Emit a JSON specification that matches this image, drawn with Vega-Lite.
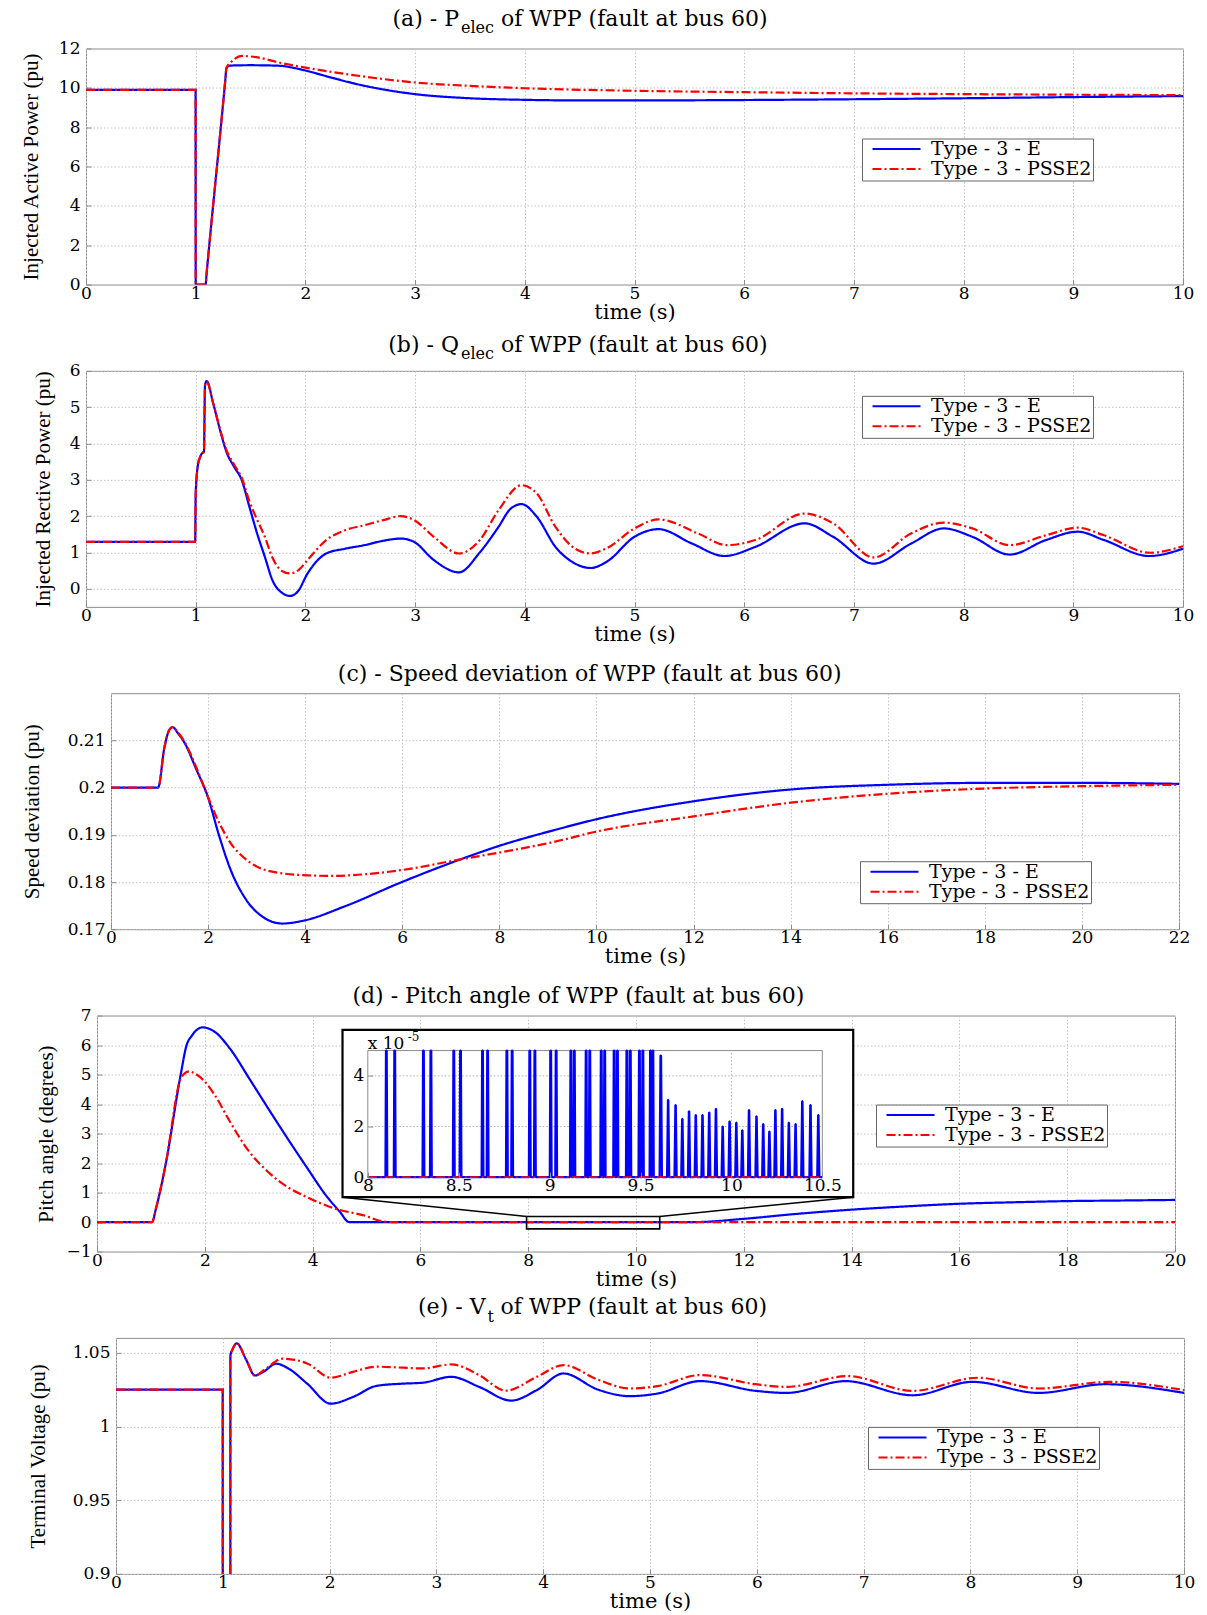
{
"$schema": "https://vega.github.io/schema/vega-lite/v6.json",
"background": "white",
"padding": {"left": 0, "top": 5.5, "right": 4, "bottom": 0},
"config": {
  "view": {"stroke": "#8c8c8c", "strokeWidth": 1},
  "axis": {"domain": false, "grid": true, "gridColor": "#c4c4c4", "gridDash": [1.5, 2], "gridWidth": 1,
    "ticks": true, "tickColor": "#8c8c8c", "tickSize": -5, "tickWidth": 1, "tickCount": 30,
    "labelFont": "DejaVu Serif", "labelFontSize": 17, "labelColor": "#000", "labelFlush": false, "labelOverlap": false,
    "titleFont": "DejaVu Serif", "titleFontSize": 21, "titleFontWeight": "normal", "titleColor": "#000"},
  "axisX": {"labelPadding": 5.5, "titlePadding": 0},
  "axisY": {"labelPadding": 11, "titleFont": "Liberation Serif", "titleFontSize": 21},
  "legend": {"labelFont": "DejaVu Serif", "labelFontSize": 19, "labelColor": "#000", "labelLimit": 0}
},
"datasets": {
 "pa": [
  {"t":0,"v":9.9,"s":"Type - 3 - E"},{"t":0.999,"v":9.9,"s":"Type - 3 - E"},{"t":1,"v":0,"s":"Type - 3 - E"},{"t":1.09,"v":0,"s":"Type - 3 - E"},{"t":1.1,"v":0.6,"s":"Type - 3 - E"},{"t":1.27,"v":10.4,"s":"Type - 3 - E"},{"t":1.28,"v":11.0,"s":"Type - 3 - E"},{"t":1.31,"v":11.13,"s":"Type - 3 - E"},{"t":1.5,"v":11.15,"s":"Type - 3 - E"},{"t":1.77,"v":11.12,"s":"Type - 3 - E"},{"t":1.88,"v":11.03,"s":"Type - 3 - E"},{"t":2,"v":10.88,"s":"Type - 3 - E"},{"t":2.25,"v":10.5,"s":"Type - 3 - E"},{"t":2.5,"v":10.15,"s":"Type - 3 - E"},{"t":2.75,"v":9.88,"s":"Type - 3 - E"},{"t":3,"v":9.68,"s":"Type - 3 - E"},{"t":3.5,"v":9.47,"s":"Type - 3 - E"},{"t":4,"v":9.39,"s":"Type - 3 - E"},{"t":4.5,"v":9.36,"s":"Type - 3 - E"},{"t":5,"v":9.36,"s":"Type - 3 - E"},{"t":6,"v":9.38,"s":"Type - 3 - E"},{"t":7,"v":9.42,"s":"Type - 3 - E"},{"t":8,"v":9.47,"s":"Type - 3 - E"},{"t":9,"v":9.53,"s":"Type - 3 - E"},{"t":10,"v":9.58,"s":"Type - 3 - E"},
  {"t":0,"v":9.9,"s":"Type - 3 - PSSE2"},{"t":0.999,"v":9.9,"s":"Type - 3 - PSSE2"},{"t":1,"v":0,"s":"Type - 3 - PSSE2"},{"t":1.09,"v":0,"s":"Type - 3 - PSSE2"},{"t":1.1,"v":0.6,"s":"Type - 3 - PSSE2"},{"t":1.27,"v":10.4,"s":"Type - 3 - PSSE2"},{"t":1.28,"v":11.0,"s":"Type - 3 - PSSE2"},{"t":1.33,"v":11.35,"s":"Type - 3 - PSSE2"},{"t":1.42,"v":11.62,"s":"Type - 3 - PSSE2"},{"t":1.55,"v":11.56,"s":"Type - 3 - PSSE2"},{"t":1.75,"v":11.3,"s":"Type - 3 - PSSE2"},{"t":2,"v":11.03,"s":"Type - 3 - PSSE2"},{"t":2.5,"v":10.6,"s":"Type - 3 - PSSE2"},{"t":3,"v":10.27,"s":"Type - 3 - PSSE2"},{"t":3.5,"v":10.1,"s":"Type - 3 - PSSE2"},{"t":4,"v":9.98,"s":"Type - 3 - PSSE2"},{"t":5,"v":9.85,"s":"Type - 3 - PSSE2"},{"t":6,"v":9.78,"s":"Type - 3 - PSSE2"},{"t":7,"v":9.72,"s":"Type - 3 - PSSE2"},{"t":8,"v":9.68,"s":"Type - 3 - PSSE2"},{"t":9,"v":9.65,"s":"Type - 3 - PSSE2"},{"t":10,"v":9.63,"s":"Type - 3 - PSSE2"}
 ],
 "pb": [
  {"t":0,"v":1.29,"s":"Type - 3 - E"},{"t":0.995,"v":1.29,"s":"Type - 3 - E"},{"t":1,"v":2.6,"s":"Type - 3 - E"},{"t":1.02,"v":3.4,"s":"Type - 3 - E"},{"t":1.04,"v":3.62,"s":"Type - 3 - E"},{"t":1.065,"v":3.75,"s":"Type - 3 - E"},{"t":1.075,"v":3.76,"s":"Type - 3 - E"},{"t":1.085,"v":5.6,"s":"Type - 3 - E"},{"t":1.1,"v":5.72,"s":"Type - 3 - E"},{"t":1.16,"v":5.1,"s":"Type - 3 - E"},{"t":1.23,"v":4.28,"s":"Type - 3 - E"},{"t":1.28,"v":3.77,"s":"Type - 3 - E"},{"t":1.35,"v":3.36,"s":"Type - 3 - E"},{"t":1.42,"v":2.99,"s":"Type - 3 - E"},{"t":1.49,"v":2.25,"s":"Type - 3 - E"},{"t":1.56,"v":1.52,"s":"Type - 3 - E"},{"t":1.63,"v":0.88,"s":"Type - 3 - E"},{"t":1.7,"v":0.23,"s":"Type - 3 - E"},{"t":1.79,"v":-0.12,"s":"Type - 3 - E"},{"t":1.86,"v":-0.2,"s":"Type - 3 - E"},{"t":1.93,"v":-0.08,"s":"Type - 3 - E"},{"t":2.02,"v":0.42,"s":"Type - 3 - E"},{"t":2.19,"v":0.97,"s":"Type - 3 - E"},{"t":2.36,"v":1.1,"s":"Type - 3 - E"},{"t":2.54,"v":1.2,"s":"Type - 3 - E"},{"t":2.71,"v":1.32,"s":"Type - 3 - E"},{"t":2.87,"v":1.38,"s":"Type - 3 - E"},{"t":2.99,"v":1.29,"s":"Type - 3 - E"},{"t":3.17,"v":0.79,"s":"Type - 3 - E"},{"t":3.4,"v":0.45,"s":"Type - 3 - E"},{"t":3.59,"v":1.0,"s":"Type - 3 - E"},{"t":3.76,"v":1.7,"s":"Type - 3 - E"},{"t":3.87,"v":2.2,"s":"Type - 3 - E"},{"t":3.97,"v":2.33,"s":"Type - 3 - E"},{"t":4.11,"v":1.98,"s":"Type - 3 - E"},{"t":4.28,"v":1.15,"s":"Type - 3 - E"},{"t":4.46,"v":0.69,"s":"Type - 3 - E"},{"t":4.6,"v":0.57,"s":"Type - 3 - E"},{"t":4.75,"v":0.75,"s":"Type - 3 - E"},{"t":5.0,"v":1.43,"s":"Type - 3 - E"},{"t":5.22,"v":1.64,"s":"Type - 3 - E"},{"t":5.52,"v":1.25,"s":"Type - 3 - E"},{"t":5.82,"v":0.9,"s":"Type - 3 - E"},{"t":6.1,"v":1.15,"s":"Type - 3 - E"},{"t":6.55,"v":1.8,"s":"Type - 3 - E"},{"t":6.81,"v":1.43,"s":"Type - 3 - E"},{"t":7.18,"v":0.69,"s":"Type - 3 - E"},{"t":7.52,"v":1.24,"s":"Type - 3 - E"},{"t":7.82,"v":1.66,"s":"Type - 3 - E"},{"t":8.08,"v":1.43,"s":"Type - 3 - E"},{"t":8.42,"v":0.94,"s":"Type - 3 - E"},{"t":8.75,"v":1.34,"s":"Type - 3 - E"},{"t":9.04,"v":1.57,"s":"Type - 3 - E"},{"t":9.28,"v":1.34,"s":"Type - 3 - E"},{"t":9.69,"v":0.9,"s":"Type - 3 - E"},{"t":10,"v":1.1,"s":"Type - 3 - E"},
  {"t":0,"v":1.29,"s":"Type - 3 - PSSE2"},{"t":0.995,"v":1.29,"s":"Type - 3 - PSSE2"},{"t":1,"v":2.6,"s":"Type - 3 - PSSE2"},{"t":1.02,"v":3.4,"s":"Type - 3 - PSSE2"},{"t":1.04,"v":3.62,"s":"Type - 3 - PSSE2"},{"t":1.065,"v":3.75,"s":"Type - 3 - PSSE2"},{"t":1.075,"v":3.76,"s":"Type - 3 - PSSE2"},{"t":1.085,"v":5.6,"s":"Type - 3 - PSSE2"},{"t":1.1,"v":5.7,"s":"Type - 3 - PSSE2"},{"t":1.16,"v":5.1,"s":"Type - 3 - PSSE2"},{"t":1.23,"v":4.3,"s":"Type - 3 - PSSE2"},{"t":1.28,"v":3.82,"s":"Type - 3 - PSSE2"},{"t":1.35,"v":3.42,"s":"Type - 3 - PSSE2"},{"t":1.42,"v":3.05,"s":"Type - 3 - PSSE2"},{"t":1.49,"v":2.4,"s":"Type - 3 - PSSE2"},{"t":1.56,"v":1.9,"s":"Type - 3 - PSSE2"},{"t":1.63,"v":1.43,"s":"Type - 3 - PSSE2"},{"t":1.7,"v":0.85,"s":"Type - 3 - PSSE2"},{"t":1.79,"v":0.48,"s":"Type - 3 - PSSE2"},{"t":1.86,"v":0.42,"s":"Type - 3 - PSSE2"},{"t":1.94,"v":0.52,"s":"Type - 3 - PSSE2"},{"t":2.02,"v":0.79,"s":"Type - 3 - PSSE2"},{"t":2.19,"v":1.34,"s":"Type - 3 - PSSE2"},{"t":2.36,"v":1.61,"s":"Type - 3 - PSSE2"},{"t":2.54,"v":1.75,"s":"Type - 3 - PSSE2"},{"t":2.71,"v":1.89,"s":"Type - 3 - PSSE2"},{"t":2.87,"v":2.0,"s":"Type - 3 - PSSE2"},{"t":2.99,"v":1.89,"s":"Type - 3 - PSSE2"},{"t":3.17,"v":1.43,"s":"Type - 3 - PSSE2"},{"t":3.4,"v":0.97,"s":"Type - 3 - PSSE2"},{"t":3.59,"v":1.34,"s":"Type - 3 - PSSE2"},{"t":3.76,"v":2.16,"s":"Type - 3 - PSSE2"},{"t":3.97,"v":2.85,"s":"Type - 3 - PSSE2"},{"t":4.11,"v":2.62,"s":"Type - 3 - PSSE2"},{"t":4.28,"v":1.7,"s":"Type - 3 - PSSE2"},{"t":4.46,"v":1.1,"s":"Type - 3 - PSSE2"},{"t":4.6,"v":0.97,"s":"Type - 3 - PSSE2"},{"t":4.75,"v":1.12,"s":"Type - 3 - PSSE2"},{"t":5.0,"v":1.66,"s":"Type - 3 - PSSE2"},{"t":5.22,"v":1.91,"s":"Type - 3 - PSSE2"},{"t":5.58,"v":1.52,"s":"Type - 3 - PSSE2"},{"t":5.84,"v":1.2,"s":"Type - 3 - PSSE2"},{"t":6.1,"v":1.34,"s":"Type - 3 - PSSE2"},{"t":6.55,"v":2.07,"s":"Type - 3 - PSSE2"},{"t":6.81,"v":1.8,"s":"Type - 3 - PSSE2"},{"t":7.18,"v":0.86,"s":"Type - 3 - PSSE2"},{"t":7.52,"v":1.52,"s":"Type - 3 - PSSE2"},{"t":7.82,"v":1.82,"s":"Type - 3 - PSSE2"},{"t":8.08,"v":1.66,"s":"Type - 3 - PSSE2"},{"t":8.42,"v":1.2,"s":"Type - 3 - PSSE2"},{"t":8.75,"v":1.47,"s":"Type - 3 - PSSE2"},{"t":9.04,"v":1.68,"s":"Type - 3 - PSSE2"},{"t":9.28,"v":1.47,"s":"Type - 3 - PSSE2"},{"t":9.7,"v":0.99,"s":"Type - 3 - PSSE2"},{"t":10,"v":1.17,"s":"Type - 3 - PSSE2"}
 ],
 "pc": [
  {"t":0,"v":0.2,"s":"Type - 3 - E"},{"t":0.97,"v":0.2,"s":"Type - 3 - E"},{"t":1.1,"v":0.2085,"s":"Type - 3 - E"},{"t":1.2,"v":0.2122,"s":"Type - 3 - E"},{"t":1.27,"v":0.2128,"s":"Type - 3 - E"},{"t":1.38,"v":0.2115,"s":"Type - 3 - E"},{"t":1.52,"v":0.2094,"s":"Type - 3 - E"},{"t":1.76,"v":0.2038,"s":"Type - 3 - E"},{"t":1.99,"v":0.1982,"s":"Type - 3 - E"},{"t":2.23,"v":0.1897,"s":"Type - 3 - E"},{"t":2.46,"v":0.1827,"s":"Type - 3 - E"},{"t":2.78,"v":0.1763,"s":"Type - 3 - E"},{"t":3.1,"v":0.1728,"s":"Type - 3 - E"},{"t":3.53,"v":0.1712,"s":"Type - 3 - E"},{"t":3.96,"v":0.1718,"s":"Type - 3 - E"},{"t":4.83,"v":0.1749,"s":"Type - 3 - E"},{"t":5.97,"v":0.1799,"s":"Type - 3 - E"},{"t":7.2,"v":0.1848,"s":"Type - 3 - E"},{"t":7.98,"v":0.1876,"s":"Type - 3 - E"},{"t":9.17,"v":0.1911,"s":"Type - 3 - E"},{"t":9.96,"v":0.1932,"s":"Type - 3 - E"},{"t":12,"v":0.1971,"s":"Type - 3 - E"},{"t":14,"v":0.1996,"s":"Type - 3 - E"},{"t":16,"v":0.2006,"s":"Type - 3 - E"},{"t":18,"v":0.201,"s":"Type - 3 - E"},{"t":20,"v":0.201,"s":"Type - 3 - E"},{"t":22,"v":0.2008,"s":"Type - 3 - E"},
  {"t":0,"v":0.2,"s":"Type - 3 - PSSE2"},{"t":0.97,"v":0.2,"s":"Type - 3 - PSSE2"},{"t":1.1,"v":0.2085,"s":"Type - 3 - PSSE2"},{"t":1.2,"v":0.2122,"s":"Type - 3 - PSSE2"},{"t":1.27,"v":0.2128,"s":"Type - 3 - PSSE2"},{"t":1.38,"v":0.2117,"s":"Type - 3 - PSSE2"},{"t":1.52,"v":0.2096,"s":"Type - 3 - PSSE2"},{"t":1.76,"v":0.2042,"s":"Type - 3 - PSSE2"},{"t":1.99,"v":0.1982,"s":"Type - 3 - PSSE2"},{"t":2.23,"v":0.1925,"s":"Type - 3 - PSSE2"},{"t":2.46,"v":0.1883,"s":"Type - 3 - PSSE2"},{"t":2.78,"v":0.1848,"s":"Type - 3 - PSSE2"},{"t":3.27,"v":0.1823,"s":"Type - 3 - PSSE2"},{"t":4.06,"v":0.1814,"s":"Type - 3 - PSSE2"},{"t":4.5,"v":0.1813,"s":"Type - 3 - PSSE2"},{"t":5.97,"v":0.1825,"s":"Type - 3 - PSSE2"},{"t":7.2,"v":0.1848,"s":"Type - 3 - PSSE2"},{"t":7.98,"v":0.1862,"s":"Type - 3 - PSSE2"},{"t":9.17,"v":0.1886,"s":"Type - 3 - PSSE2"},{"t":9.96,"v":0.1906,"s":"Type - 3 - PSSE2"},{"t":12,"v":0.1939,"s":"Type - 3 - PSSE2"},{"t":14,"v":0.1968,"s":"Type - 3 - PSSE2"},{"t":16,"v":0.1987,"s":"Type - 3 - PSSE2"},{"t":18,"v":0.1998,"s":"Type - 3 - PSSE2"},{"t":20,"v":0.2003,"s":"Type - 3 - PSSE2"},{"t":22,"v":0.2006,"s":"Type - 3 - PSSE2"}
 ],
 "pd": [
  {"t":0,"v":0,"s":"Type - 3 - E"},{"t":1.02,"v":0,"s":"Type - 3 - E"},{"t":1.1,"v":0.5,"s":"Type - 3 - E"},{"t":1.27,"v":1.92,"s":"Type - 3 - E"},{"t":1.55,"v":4.97,"s":"Type - 3 - E"},{"t":1.66,"v":5.98,"s":"Type - 3 - E"},{"t":1.76,"v":6.32,"s":"Type - 3 - E"},{"t":1.96,"v":6.6,"s":"Type - 3 - E"},{"t":2.19,"v":6.44,"s":"Type - 3 - E"},{"t":2.47,"v":5.87,"s":"Type - 3 - E"},{"t":2.83,"v":4.85,"s":"Type - 3 - E"},{"t":3.18,"v":3.84,"s":"Type - 3 - E"},{"t":3.54,"v":2.82,"s":"Type - 3 - E"},{"t":3.89,"v":1.86,"s":"Type - 3 - E"},{"t":4.25,"v":0.9,"s":"Type - 3 - E"},{"t":4.5,"v":0.36,"s":"Type - 3 - E"},{"t":4.68,"v":0,"s":"Type - 3 - E"},{"t":11.1,"v":0,"s":"Type - 3 - E"},{"t":12,"v":0.11,"s":"Type - 3 - E"},{"t":13,"v":0.28,"s":"Type - 3 - E"},{"t":14,"v":0.42,"s":"Type - 3 - E"},{"t":15,"v":0.53,"s":"Type - 3 - E"},{"t":16,"v":0.62,"s":"Type - 3 - E"},{"t":17,"v":0.67,"s":"Type - 3 - E"},{"t":18,"v":0.71,"s":"Type - 3 - E"},{"t":19,"v":0.73,"s":"Type - 3 - E"},{"t":20,"v":0.75,"s":"Type - 3 - E"},
  {"t":0,"v":0,"s":"Type - 3 - PSSE2"},{"t":1.02,"v":0,"s":"Type - 3 - PSSE2"},{"t":1.1,"v":0.5,"s":"Type - 3 - PSSE2"},{"t":1.27,"v":1.92,"s":"Type - 3 - PSSE2"},{"t":1.55,"v":4.85,"s":"Type - 3 - PSSE2"},{"t":1.63,"v":5.05,"s":"Type - 3 - PSSE2"},{"t":1.71,"v":5.11,"s":"Type - 3 - PSSE2"},{"t":1.8,"v":5.05,"s":"Type - 3 - PSSE2"},{"t":1.98,"v":4.8,"s":"Type - 3 - PSSE2"},{"t":2.19,"v":4.29,"s":"Type - 3 - PSSE2"},{"t":2.47,"v":3.39,"s":"Type - 3 - PSSE2"},{"t":2.83,"v":2.37,"s":"Type - 3 - PSSE2"},{"t":3.18,"v":1.69,"s":"Type - 3 - PSSE2"},{"t":3.54,"v":1.18,"s":"Type - 3 - PSSE2"},{"t":3.89,"v":0.85,"s":"Type - 3 - PSSE2"},{"t":4.39,"v":0.47,"s":"Type - 3 - PSSE2"},{"t":4.96,"v":0.22,"s":"Type - 3 - PSSE2"},{"t":5.31,"v":0.02,"s":"Type - 3 - PSSE2"},{"t":5.45,"v":0,"s":"Type - 3 - PSSE2"},{"t":20,"v":0,"s":"Type - 3 - PSSE2"}
 ],
 "pdinE": [
  {"t":8.0,"v":0},
  {"t":8.097,"v":0},{"t":8.1,"v":5},{"t":8.104,"v":5},{"t":8.107,"v":0},
  {"t":8.143,"v":0},{"t":8.146,"v":5},{"t":8.15,"v":5},{"t":8.153,"v":0},
  {"t":8.301,"v":0},{"t":8.304,"v":5},{"t":8.308,"v":5},{"t":8.311,"v":0},
  {"t":8.342,"v":0},{"t":8.345,"v":5},{"t":8.349,"v":5},{"t":8.352,"v":0},
  {"t":8.468,"v":0},{"t":8.471,"v":5},{"t":8.475,"v":5},{"t":8.478,"v":0},
  {"t":8.505,"v":0},{"t":8.508,"v":5},{"t":8.512,"v":5},{"t":8.515,"v":0},
  {"t":8.626,"v":0},{"t":8.629,"v":5},{"t":8.633,"v":5},{"t":8.636,"v":0},
  {"t":8.654,"v":0},{"t":8.657,"v":5},{"t":8.661,"v":5},{"t":8.664,"v":0},
  {"t":8.76,"v":0},{"t":8.763,"v":5},{"t":8.767,"v":5},{"t":8.77,"v":0},
  {"t":8.789,"v":0},{"t":8.792,"v":5},{"t":8.796,"v":5},{"t":8.799,"v":0},
  {"t":8.886,"v":0},{"t":8.889,"v":5},{"t":8.893,"v":5},{"t":8.896,"v":0},
  {"t":8.914,"v":0},{"t":8.917,"v":5},{"t":8.921,"v":5},{"t":8.924,"v":0},
  {"t":9.001,"v":0},{"t":9.004,"v":5},{"t":9.008,"v":5},{"t":9.011,"v":0},
  {"t":9.031,"v":0},{"t":9.034,"v":5},{"t":9.038,"v":5},{"t":9.041,"v":0},
  {"t":9.112,"v":0},{"t":9.115,"v":5},{"t":9.119,"v":5},{"t":9.122,"v":0},
  {"t":9.131,"v":0},{"t":9.134,"v":5},{"t":9.138,"v":5},{"t":9.141,"v":0},
  {"t":9.196,"v":0},{"t":9.199,"v":5},{"t":9.203,"v":5},{"t":9.206,"v":0},
  {"t":9.216,"v":0},{"t":9.219,"v":5},{"t":9.223,"v":5},{"t":9.226,"v":0},
  {"t":9.279,"v":0},{"t":9.282,"v":5},{"t":9.286,"v":5},{"t":9.289,"v":0},
  {"t":9.298,"v":0},{"t":9.301,"v":5},{"t":9.305,"v":5},{"t":9.308,"v":0},
  {"t":9.35,"v":0},{"t":9.353,"v":5},{"t":9.357,"v":5},{"t":9.36,"v":0},
  {"t":9.368,"v":0},{"t":9.371,"v":5},{"t":9.375,"v":5},{"t":9.378,"v":0},
  {"t":9.42,"v":0},{"t":9.423,"v":5},{"t":9.427,"v":5},{"t":9.43,"v":0},
  {"t":9.439,"v":0},{"t":9.442,"v":5},{"t":9.446,"v":5},{"t":9.449,"v":0},
  {"t":9.489,"v":0},{"t":9.492,"v":5},{"t":9.496,"v":5},{"t":9.499,"v":0},
  {"t":9.508,"v":0},{"t":9.511,"v":5},{"t":9.515,"v":5},{"t":9.518,"v":0},
  {"t":9.55,"v":0},{"t":9.553,"v":5},{"t":9.557,"v":5},{"t":9.56,"v":0},
  {"t":9.563,"v":0},{"t":9.566,"v":5},{"t":9.57,"v":5},{"t":9.573,"v":0},
  {"t":9.605,"v":0},{"t":9.61,"v":4.8},{"t":9.613,"v":4.8},{"t":9.618,"v":0},
  {"t":9.646,"v":0},{"t":9.651,"v":3.05},{"t":9.653,"v":3.05},{"t":9.658,"v":0},
  {"t":9.687,"v":0},{"t":9.692,"v":2.85},{"t":9.694,"v":2.85},{"t":9.699,"v":0},
  {"t":9.724,"v":0},{"t":9.729,"v":2.3},{"t":9.731,"v":2.3},{"t":9.736,"v":0},
  {"t":9.761,"v":0},{"t":9.766,"v":2.6},{"t":9.768,"v":2.6},{"t":9.773,"v":0},
  {"t":9.798,"v":0},{"t":9.803,"v":2.45},{"t":9.805,"v":2.45},{"t":9.81,"v":0},
  {"t":9.835,"v":0},{"t":9.84,"v":2.45},{"t":9.842,"v":2.45},{"t":9.847,"v":0},
  {"t":9.872,"v":0},{"t":9.877,"v":2.55},{"t":9.879,"v":2.55},{"t":9.884,"v":0},
  {"t":9.909,"v":0},{"t":9.914,"v":2.7},{"t":9.916,"v":2.7},{"t":9.921,"v":0},
  {"t":9.946,"v":0},{"t":9.951,"v":2.0},{"t":9.953,"v":2.0},{"t":9.958,"v":0},
  {"t":9.984,"v":0},{"t":9.989,"v":2.2},{"t":9.991,"v":2.2},{"t":9.996,"v":0},
  {"t":10.021,"v":0},{"t":10.026,"v":2.15},{"t":10.028,"v":2.15},{"t":10.033,"v":0},
  {"t":10.054,"v":0},{"t":10.059,"v":1.85},{"t":10.061,"v":1.85},{"t":10.066,"v":0},
  {"t":10.091,"v":0},{"t":10.096,"v":2.65},{"t":10.098,"v":2.65},{"t":10.103,"v":0},
  {"t":10.132,"v":0},{"t":10.137,"v":2.4},{"t":10.139,"v":2.4},{"t":10.144,"v":0},
  {"t":10.169,"v":0},{"t":10.174,"v":2.1},{"t":10.176,"v":2.1},{"t":10.181,"v":0},
  {"t":10.203,"v":0},{"t":10.208,"v":1.8},{"t":10.21,"v":1.8},{"t":10.215,"v":0},
  {"t":10.236,"v":0},{"t":10.241,"v":2.65},{"t":10.243,"v":2.65},{"t":10.248,"v":0},
  {"t":10.273,"v":0},{"t":10.278,"v":2.7},{"t":10.28,"v":2.7},{"t":10.285,"v":0},
  {"t":10.31,"v":0},{"t":10.315,"v":2.15},{"t":10.317,"v":2.15},{"t":10.322,"v":0},
  {"t":10.347,"v":0},{"t":10.352,"v":2.1},{"t":10.354,"v":2.1},{"t":10.359,"v":0},
  {"t":10.384,"v":0},{"t":10.389,"v":3.0},{"t":10.391,"v":3.0},{"t":10.396,"v":0},
  {"t":10.429,"v":0},{"t":10.434,"v":2.85},{"t":10.436,"v":2.85},{"t":10.441,"v":0},
  {"t":10.472,"v":0},{"t":10.477,"v":2.45},{"t":10.479,"v":2.45},{"t":10.484,"v":0},
  {"t":10.5,"v":0}
 ],
 "pdinP": [{"t":8,"v":0},{"t":10.5,"v":0}],
 "pe": [
  {"t":0,"v":1.025,"s":"Type - 3 - E"},{"t":0.999,"v":1.025,"s":"Type - 3 - E"},{"t":1,"v":0.5,"s":"Type - 3 - E"},{"t":1.07,"v":0.5,"s":"Type - 3 - E"},{"t":1.071,"v":1.048,"s":"Type - 3 - E"},{"t":1.09,"v":1.052,"s":"Type - 3 - E"},{"t":1.13,"v":1.0563,"s":"Type - 3 - E"},{"t":1.22,"v":1.045,"s":"Type - 3 - E"},{"t":1.3,"v":1.0345,"s":"Type - 3 - E"},{"t":1.38,"v":1.037,"s":"Type - 3 - E"},{"t":1.5,"v":1.0425,"s":"Type - 3 - E"},{"t":1.62,"v":1.039,"s":"Type - 3 - E"},{"t":1.79,"v":1.029,"s":"Type - 3 - E"},{"t":2.01,"v":1.0154,"s":"Type - 3 - E"},{"t":2.22,"v":1.02,"s":"Type - 3 - E"},{"t":2.44,"v":1.0275,"s":"Type - 3 - E"},{"t":2.69,"v":1.029,"s":"Type - 3 - E"},{"t":2.87,"v":1.0296,"s":"Type - 3 - E"},{"t":3.14,"v":1.0336,"s":"Type - 3 - E"},{"t":3.4,"v":1.0268,"s":"Type - 3 - E"},{"t":3.7,"v":1.0175,"s":"Type - 3 - E"},{"t":3.94,"v":1.0246,"s":"Type - 3 - E"},{"t":4.19,"v":1.0359,"s":"Type - 3 - E"},{"t":4.51,"v":1.025,"s":"Type - 3 - E"},{"t":4.81,"v":1.0205,"s":"Type - 3 - E"},{"t":5.07,"v":1.0223,"s":"Type - 3 - E"},{"t":5.47,"v":1.0307,"s":"Type - 3 - E"},{"t":5.99,"v":1.0241,"s":"Type - 3 - E"},{"t":6.28,"v":1.0227,"s":"Type - 3 - E"},{"t":6.83,"v":1.0307,"s":"Type - 3 - E"},{"t":7.46,"v":1.0211,"s":"Type - 3 - E"},{"t":8.02,"v":1.0302,"s":"Type - 3 - E"},{"t":8.64,"v":1.0227,"s":"Type - 3 - E"},{"t":9.26,"v":1.0286,"s":"Type - 3 - E"},{"t":10,"v":1.0227,"s":"Type - 3 - E"},
  {"t":0,"v":1.025,"s":"Type - 3 - PSSE2"},{"t":0.999,"v":1.025,"s":"Type - 3 - PSSE2"},{"t":1,"v":0.5,"s":"Type - 3 - PSSE2"},{"t":1.07,"v":0.5,"s":"Type - 3 - PSSE2"},{"t":1.071,"v":1.048,"s":"Type - 3 - PSSE2"},{"t":1.09,"v":1.052,"s":"Type - 3 - PSSE2"},{"t":1.13,"v":1.0563,"s":"Type - 3 - PSSE2"},{"t":1.22,"v":1.045,"s":"Type - 3 - PSSE2"},{"t":1.3,"v":1.0345,"s":"Type - 3 - PSSE2"},{"t":1.4,"v":1.039,"s":"Type - 3 - PSSE2"},{"t":1.56,"v":1.0459,"s":"Type - 3 - PSSE2"},{"t":1.79,"v":1.0427,"s":"Type - 3 - PSSE2"},{"t":2.01,"v":1.033,"s":"Type - 3 - PSSE2"},{"t":2.22,"v":1.037,"s":"Type - 3 - PSSE2"},{"t":2.44,"v":1.0405,"s":"Type - 3 - PSSE2"},{"t":2.69,"v":1.0398,"s":"Type - 3 - PSSE2"},{"t":2.87,"v":1.0393,"s":"Type - 3 - PSSE2"},{"t":3.14,"v":1.042,"s":"Type - 3 - PSSE2"},{"t":3.4,"v":1.0348,"s":"Type - 3 - PSSE2"},{"t":3.65,"v":1.0242,"s":"Type - 3 - PSSE2"},{"t":3.94,"v":1.0336,"s":"Type - 3 - PSSE2"},{"t":4.19,"v":1.0416,"s":"Type - 3 - PSSE2"},{"t":4.51,"v":1.0318,"s":"Type - 3 - PSSE2"},{"t":4.81,"v":1.0257,"s":"Type - 3 - PSSE2"},{"t":5.07,"v":1.0273,"s":"Type - 3 - PSSE2"},{"t":5.47,"v":1.0348,"s":"Type - 3 - PSSE2"},{"t":5.99,"v":1.0286,"s":"Type - 3 - PSSE2"},{"t":6.28,"v":1.0268,"s":"Type - 3 - PSSE2"},{"t":6.85,"v":1.0341,"s":"Type - 3 - PSSE2"},{"t":7.46,"v":1.0241,"s":"Type - 3 - PSSE2"},{"t":8.07,"v":1.033,"s":"Type - 3 - PSSE2"},{"t":8.64,"v":1.0257,"s":"Type - 3 - PSSE2"},{"t":9.3,"v":1.0302,"s":"Type - 3 - PSSE2"},{"t":10,"v":1.0246,"s":"Type - 3 - PSSE2"}
 ]
},
"spacing": 5.35,
"resolve": {"scale": {"color": "independent", "strokeDash": "independent"}},
"vconcat": [
 {"hconcat": [
   {"width": 85, "height": 236, "data": {"values": [{}]}, "mark": {"type": "point", "opacity": 0}, "encoding": {}, "view": {"stroke": "transparent"}},
   {"width": 1097, "height": 236,
    "layer": [
     {"data": {"name": "pa"}, "mark": {"type": "line", "interpolate": "monotone", "clip": true, "strokeWidth": 2.2},
      "encoding": {
       "x": {"field": "t", "type": "quantitative", "scale": {"domain": [0, 10], "nice": false, "zero": false}, "axis": {"values": [0,1,2,3,4,5,6,7,8,9,10], "tickCount": 30, "format": "d", "labelOverlap": false, "title": "time (s)"}},
       "y": {"field": "v", "type": "quantitative", "scale": {"domain": [0, 12], "nice": false, "zero": false}, "axis": {"values": [0,2,4,6,8,10,12], "tickCount": 30, "format": "d", "labelOverlap": false, "title": "Injected Active Power (pu)", "titleX": -45}},
       "color": {"field": "s", "type": "nominal", "scale": {"domain": ["Type - 3 - E", "Type - 3 - PSSE2"], "range": ["#0000ff", "#ff0000"]},
         "legend": {"title": null, "orient": "none", "legendX": 776, "legendY": 90, "symbolType": "M-4,0H4", "symbolSize": 144, "symbolStrokeWidth": 2, "symbolOffset": 24, "labelOffset": 25, "strokeColor": "#666666", "fillColor": "#ffffff", "padding": 1, "rowPadding": 0}},
       "strokeDash": {"field": "s", "type": "nominal", "scale": {"domain": ["Type - 3 - E", "Type - 3 - PSSE2"], "range": [[1, 0], [9, 3, 2, 3]]},
         "legend": {"title": null, "orient": "none", "legendX": 776, "legendY": 90, "symbolType": "M-4,0H4", "symbolSize": 144, "symbolStrokeWidth": 2, "symbolOffset": 24, "labelOffset": 25, "strokeColor": "#666666", "fillColor": "#ffffff", "padding": 1, "rowPadding": 0}}
      }},
     {"data": {"values": [{}]}, "mark": {"type": "rule", "strokeOpacity": 0},
      "encoding": {"x": {"datum": 0, "type": "quantitative"}, "y": {"datum": 12, "type": "quantitative"}, "y2": {"datum": 14.136}}},
     {"data": {"values": [{}]}, "mark": {"type": "text", "font": "DejaVu Serif", "fontSize": 22, "align": "right", "baseline": "alphabetic", "color": "#000"},
      "encoding": {"x": {"datum": 3.4, "type": "quantitative"}, "y": {"datum": 13.15, "type": "quantitative"}, "text": {"value": "(a) - P"}}},
     {"data": {"values": [{}]}, "mark": {"type": "text", "font": "DejaVu Serif", "fontSize": 16, "align": "left", "baseline": "alphabetic", "dx": 2, "dy": 7, "color": "#000"},
      "encoding": {"x": {"datum": 3.4, "type": "quantitative"}, "y": {"datum": 13.15, "type": "quantitative"}, "text": {"value": "elec"}}},
     {"data": {"values": [{}]}, "mark": {"type": "text", "font": "DejaVu Serif", "fontSize": 22, "align": "left", "baseline": "alphabetic", "dx": 42, "color": "#000"},
      "encoding": {"x": {"datum": 3.4, "type": "quantitative"}, "y": {"datum": 13.15, "type": "quantitative"}, "text": {"value": "of WPP (fault at bus 60)"}}}
    ]}
  ], "spacing": 0, "bounds": "flush", "resolve": {"scale": {"color": "independent", "strokeDash": "independent"}}},
 {"hconcat": [
   {"width": 85, "height": 236, "data": {"values": [{}]}, "mark": {"type": "point", "opacity": 0}, "encoding": {}, "view": {"stroke": "transparent"}},
   {"width": 1097, "height": 236,
    "layer": [
     {"data": {"name": "pb"}, "mark": {"type": "line", "interpolate": "monotone", "clip": true, "strokeWidth": 2.2},
      "encoding": {
       "x": {"field": "t", "type": "quantitative", "scale": {"domain": [0, 10], "nice": false, "zero": false}, "axis": {"values": [0,1,2,3,4,5,6,7,8,9,10], "tickCount": 30, "format": "d", "labelOverlap": false, "title": "time (s)"}},
       "y": {"field": "v", "type": "quantitative", "scale": {"domain": [-0.5, 6], "nice": false, "zero": false}, "axis": {"values": [0,1,2,3,4,5,6], "tickCount": 30, "format": "d", "labelOverlap": false, "title": "Injected Rective Power (pu)", "titleX": -33}},
       "color": {"field": "s", "type": "nominal", "scale": {"domain": ["Type - 3 - E", "Type - 3 - PSSE2"], "range": ["#0000ff", "#ff0000"]},
         "legend": {"title": null, "orient": "none", "legendX": 776, "legendY": 25, "symbolType": "M-4,0H4", "symbolSize": 144, "symbolStrokeWidth": 2, "symbolOffset": 24, "labelOffset": 25, "strokeColor": "#666666", "fillColor": "#ffffff", "padding": 1, "rowPadding": 0}},
       "strokeDash": {"field": "s", "type": "nominal", "scale": {"domain": ["Type - 3 - E", "Type - 3 - PSSE2"], "range": [[1, 0], [9, 3, 2, 3]]},
         "legend": {"title": null, "orient": "none", "legendX": 776, "legendY": 25, "symbolType": "M-4,0H4", "symbolSize": 144, "symbolStrokeWidth": 2, "symbolOffset": 24, "labelOffset": 25, "strokeColor": "#666666", "fillColor": "#ffffff", "padding": 1, "rowPadding": 0}}
      }},
     {"data": {"values": [{}]}, "mark": {"type": "rule", "strokeOpacity": 0},
      "encoding": {"x": {"datum": 0, "type": "quantitative"}, "y": {"datum": 6, "type": "quantitative"}, "y2": {"datum": 7.157}}},
     {"data": {"values": [{}]}, "mark": {"type": "text", "font": "DejaVu Serif", "fontSize": 22, "align": "right", "baseline": "alphabetic", "color": "#000"},
      "encoding": {"x": {"datum": 3.4, "type": "quantitative"}, "y": {"datum": 6.52, "type": "quantitative"}, "text": {"value": "(b) - Q"}}},
     {"data": {"values": [{}]}, "mark": {"type": "text", "font": "DejaVu Serif", "fontSize": 16, "align": "left", "baseline": "alphabetic", "dx": 2, "dy": 7, "color": "#000"},
      "encoding": {"x": {"datum": 3.4, "type": "quantitative"}, "y": {"datum": 6.52, "type": "quantitative"}, "text": {"value": "elec"}}},
     {"data": {"values": [{}]}, "mark": {"type": "text", "font": "DejaVu Serif", "fontSize": 22, "align": "left", "baseline": "alphabetic", "dx": 42, "color": "#000"},
      "encoding": {"x": {"datum": 3.4, "type": "quantitative"}, "y": {"datum": 6.52, "type": "quantitative"}, "text": {"value": "of WPP (fault at bus 60)"}}}
    ]}
  ], "spacing": 0, "bounds": "flush", "resolve": {"scale": {"color": "independent", "strokeDash": "independent"}}},
 {"hconcat": [
   {"width": 110, "height": 236, "data": {"values": [{}]}, "mark": {"type": "point", "opacity": 0}, "encoding": {}, "view": {"stroke": "transparent"}},
   {"width": 1068, "height": 236,
    "layer": [
     {"data": {"name": "pc"}, "mark": {"type": "line", "interpolate": "monotone", "clip": true, "strokeWidth": 2.2},
      "encoding": {
       "x": {"field": "t", "type": "quantitative", "scale": {"domain": [0, 22], "nice": false, "zero": false}, "axis": {"values": [0,2,4,6,8,10,12,14,16,18,20,22], "tickCount": 30, "format": "d", "labelOverlap": false, "title": "time (s)"}},
       "y": {"field": "v", "type": "quantitative", "scale": {"domain": [0.17, 0.22], "nice": false, "zero": false}, "axis": {"values": [0.17,0.18,0.19,0.2,0.21], "tickCount": 30, "format": ".2~f", "labelOverlap": false, "title": "Speed deviation (pu)", "titleX": -69}},
       "color": {"field": "s", "type": "nominal", "scale": {"domain": ["Type - 3 - E", "Type - 3 - PSSE2"], "range": ["#0000ff", "#ff0000"]},
         "legend": {"title": null, "orient": "none", "legendX": 749, "legendY": 168, "symbolType": "M-4,0H4", "symbolSize": 144, "symbolStrokeWidth": 2, "symbolOffset": 24, "labelOffset": 25, "strokeColor": "#666666", "fillColor": "#ffffff", "padding": 1, "rowPadding": 0}},
       "strokeDash": {"field": "s", "type": "nominal", "scale": {"domain": ["Type - 3 - E", "Type - 3 - PSSE2"], "range": [[1, 0], [9, 3, 2, 3]]},
         "legend": {"title": null, "orient": "none", "legendX": 749, "legendY": 168, "symbolType": "M-4,0H4", "symbolSize": 144, "symbolStrokeWidth": 2, "symbolOffset": 24, "labelOffset": 25, "strokeColor": "#666666", "fillColor": "#ffffff", "padding": 1, "rowPadding": 0}}
      }},
     {"data": {"values": [{}]}, "mark": {"type": "rule", "strokeOpacity": 0},
      "encoding": {"x": {"datum": 0, "type": "quantitative"}, "y": {"datum": 0.22, "type": "quantitative"}, "y2": {"datum": 0.2289}}},
     {"data": {"values": [{}]}, "mark": {"type": "text", "font": "DejaVu Serif", "fontSize": 22, "align": "center", "baseline": "alphabetic", "color": "#000"},
      "encoding": {"x": {"datum": 9.86, "type": "quantitative"}, "y": {"datum": 0.22266, "type": "quantitative"}, "text": {"value": "(c) - Speed deviation of WPP (fault at bus 60)"}}}
    ]}
  ], "spacing": 0, "bounds": "flush", "resolve": {"scale": {"color": "independent", "strokeDash": "independent"}}},
 {"hconcat": [
   {"width": 96, "height": 236, "data": {"values": [{}]}, "mark": {"type": "point", "opacity": 0}, "encoding": {}, "view": {"stroke": "transparent"}},
   {"width": 1078, "height": 236,
    "layer": [
     {"layer": [
       {"data": {"name": "pd"}, "mark": {"type": "line", "interpolate": "monotone", "clip": true, "strokeWidth": 2.2},
        "encoding": {
         "x": {"field": "t", "type": "quantitative", "scale": {"domain": [0, 20], "nice": false, "zero": false}, "axis": {"values": [0,2,4,6,8,10,12,14,16,18,20], "tickCount": 30, "format": "d", "labelOverlap": false, "title": "time (s)"}},
         "y": {"field": "v", "type": "quantitative", "scale": {"domain": [-1, 7], "nice": false, "zero": false}, "axis": {"values": [-1,0,1,2,3,4,5,6,7], "tickCount": 30, "format": "d", "labelOverlap": false, "title": "Pitch angle (degrees)", "titleX": -41}},
         "color": {"field": "s", "type": "nominal", "scale": {"domain": ["Type - 3 - E", "Type - 3 - PSSE2"], "range": ["#0000ff", "#ff0000"]},
           "legend": {"title": null, "orient": "none", "legendX": 779, "legendY": 89, "symbolType": "M-4,0H4", "symbolSize": 144, "symbolStrokeWidth": 2, "symbolOffset": 24, "labelOffset": 25, "strokeColor": "#666666", "fillColor": "#ffffff", "padding": 1, "rowPadding": 0}},
         "strokeDash": {"field": "s", "type": "nominal", "scale": {"domain": ["Type - 3 - E", "Type - 3 - PSSE2"], "range": [[1, 0], [9, 3, 2, 3]]},
           "legend": {"title": null, "orient": "none", "legendX": 779, "legendY": 89, "symbolType": "M-4,0H4", "symbolSize": 144, "symbolStrokeWidth": 2, "symbolOffset": 24, "labelOffset": 25, "strokeColor": "#666666", "fillColor": "#ffffff", "padding": 1, "rowPadding": 0}}
        }},
       {"data": {"values": [{}]}, "mark": {"type": "rule", "strokeOpacity": 0},
        "encoding": {"x": {"datum": 0, "type": "quantitative"}, "y": {"datum": 7, "type": "quantitative"}, "y2": {"datum": 8.424}}},
       {"data": {"values": [{}]}, "mark": {"type": "rect", "fill": null, "fillOpacity": 0, "stroke": "#000", "strokeWidth": 1.6},
        "encoding": {"x": {"datum": 7.97, "type": "quantitative"}, "x2": {"datum": 10.44}, "y": {"datum": -0.23, "type": "quantitative"}, "y2": {"datum": 0.19}}},
       {"data": {"values": [{}]}, "mark": {"type": "rule", "color": "#000", "strokeWidth": 1.5},
        "encoding": {"x": {"datum": 4.555, "type": "quantitative"}, "y": {"datum": 0.844, "type": "quantitative"}, "x2": {"datum": 7.97}, "y2": {"datum": 0.19}}},
       {"data": {"values": [{}]}, "mark": {"type": "rule", "color": "#000", "strokeWidth": 1.5},
        "encoding": {"x": {"datum": 14.03, "type": "quantitative"}, "y": {"datum": 0.844, "type": "quantitative"}, "x2": {"datum": 10.44}, "y2": {"datum": 0.19}}},
       {"data": {"values": [{}]}, "mark": {"type": "rect", "fill": "#ffffff", "stroke": "#000", "strokeWidth": 2.2},
        "encoding": {"x": {"datum": 4.555, "type": "quantitative"}, "x2": {"datum": 14.03}, "y": {"datum": 0.844, "type": "quantitative"}, "y2": {"datum": 6.515}}},
       {"data": {"values": [{}]}, "mark": {"type": "text", "font": "DejaVu Serif", "fontSize": 22, "align": "center", "baseline": "alphabetic", "color": "#000"},
        "encoding": {"x": {"datum": 8.93, "type": "quantitative"}, "y": {"datum": 7.43, "type": "quantitative"}, "text": {"value": "(d) - Pitch angle of WPP (fault at bus 60)"}}}
     ]},
     {"layer": [
       {"data": {"values": [{}]}, "mark": {"type": "rect", "fill": "#ffffff", "stroke": "#8c8c8c", "strokeWidth": 1},
        "encoding": {
         "x": {"datum": 8, "type": "quantitative", "scale": {"domain": [8, 10.5], "range": [270.8, 725.3], "nice": false, "zero": false},
           "axis": {"orient": "bottom", "offset": -74.4, "zindex": 2, "values": [8, 8.5, 9, 9.5, 10, 10.5], "tickCount": 30, "format": "~g", "labelOverlap": false, "grid": false, "title": null}},
         "x2": {"datum": 10.5},
         "y": {"datum": 0, "type": "quantitative", "scale": {"domain": [0, 5], "range": [161.6, 35], "nice": false, "zero": false},
           "axis": {"orient": "left", "offset": -270.8, "zindex": 2, "values": [0, 2, 4], "tickCount": 30, "format": "d", "labelOverlap": false, "grid": false, "title": null, "labelPadding": 9}},
         "y2": {"datum": 5}}},
       {"data": {"values": [{}]}, "mark": {"type": "rule", "color": "#b0b0b0", "strokeDash": [1.5, 2], "strokeWidth": 1},
        "encoding": {"x": {"datum": 8.5, "type": "quantitative"}, "y": {"datum": 0, "type": "quantitative"}, "y2": {"datum": 5}}},
       {"data": {"values": [{}]}, "mark": {"type": "rule", "color": "#b0b0b0", "strokeDash": [1.5, 2], "strokeWidth": 1},
        "encoding": {"x": {"datum": 9, "type": "quantitative"}, "y": {"datum": 0, "type": "quantitative"}, "y2": {"datum": 5}}},
       {"data": {"values": [{}]}, "mark": {"type": "rule", "color": "#b0b0b0", "strokeDash": [1.5, 2], "strokeWidth": 1},
        "encoding": {"x": {"datum": 9.5, "type": "quantitative"}, "y": {"datum": 0, "type": "quantitative"}, "y2": {"datum": 5}}},
       {"data": {"values": [{}]}, "mark": {"type": "rule", "color": "#b0b0b0", "strokeDash": [1.5, 2], "strokeWidth": 1},
        "encoding": {"x": {"datum": 10, "type": "quantitative"}, "y": {"datum": 0, "type": "quantitative"}, "y2": {"datum": 5}}},
       {"data": {"values": [{}]}, "mark": {"type": "rule", "color": "#b0b0b0", "strokeDash": [1.5, 2], "strokeWidth": 1},
        "encoding": {"y": {"datum": 2, "type": "quantitative"}, "x": {"datum": 8, "type": "quantitative"}, "x2": {"datum": 10.5}}},
       {"data": {"values": [{}]}, "mark": {"type": "rule", "color": "#b0b0b0", "strokeDash": [1.5, 2], "strokeWidth": 1},
        "encoding": {"y": {"datum": 4, "type": "quantitative"}, "x": {"datum": 8, "type": "quantitative"}, "x2": {"datum": 10.5}}},
       {"data": {"name": "pdinE"}, "mark": {"type": "line", "color": "#0000ff", "strokeWidth": 2.2, "strokeJoin": "bevel"},
        "encoding": {"x": {"field": "t", "type": "quantitative"}, "y": {"field": "v", "type": "quantitative"}}},
       {"data": {"name": "pdinP"}, "mark": {"type": "line", "color": "#ff0000", "strokeWidth": 1.8, "strokeDash": [9, 3, 2, 3]},
        "encoding": {"x": {"field": "t", "type": "quantitative"}, "y": {"field": "v", "type": "quantitative"}}},
       {"data": {"values": [{}]}, "mark": {"type": "text", "font": "DejaVu Serif", "fontSize": 17, "align": "left", "baseline": "alphabetic", "dy": -2, "color": "#000"},
        "encoding": {"x": {"datum": 8, "type": "quantitative"}, "y": {"datum": 5, "type": "quantitative"}, "text": {"value": "x 10"}}},
       {"data": {"values": [{}]}, "mark": {"type": "text", "font": "DejaVu Serif", "fontSize": 12, "align": "left", "baseline": "alphabetic", "dx": 40, "dy": -10, "color": "#000"},
        "encoding": {"x": {"datum": 8, "type": "quantitative"}, "y": {"datum": 5, "type": "quantitative"}, "text": {"value": "-5"}}}
     ]}
    ],
    "resolve": {"scale": {"x": "independent", "y": "independent"}, "axis": {"x": "independent", "y": "independent"}}}
  ], "spacing": 0, "bounds": "flush", "resolve": {"scale": {"color": "independent", "strokeDash": "independent"}}},
 {"hconcat": [
   {"width": 115, "height": 236, "data": {"values": [{}]}, "mark": {"type": "point", "opacity": 0}, "encoding": {}, "view": {"stroke": "transparent"}},
   {"width": 1068, "height": 236,
    "layer": [
     {"data": {"name": "pe"}, "mark": {"type": "line", "interpolate": "monotone", "clip": true, "strokeWidth": 2.2},
      "encoding": {
       "x": {"field": "t", "type": "quantitative", "scale": {"domain": [0, 10], "nice": false, "zero": false}, "axis": {"values": [0,1,2,3,4,5,6,7,8,9,10], "tickCount": 30, "format": "d", "labelOverlap": false, "title": "time (s)"}},
       "y": {"field": "v", "type": "quantitative", "scale": {"domain": [0.9, 1.06], "nice": false, "zero": false}, "axis": {"values": [0.9,0.95,1,1.05], "tickCount": 30, "format": ".2~f", "labelOverlap": false, "title": "Terminal Voltage (pu)", "titleX": -68}},
       "color": {"field": "s", "type": "nominal", "scale": {"domain": ["Type - 3 - E", "Type - 3 - PSSE2"], "range": ["#0000ff", "#ff0000"]},
         "legend": {"title": null, "orient": "none", "legendX": 752, "legendY": 89, "symbolType": "M-4,0H4", "symbolSize": 144, "symbolStrokeWidth": 2, "symbolOffset": 24, "labelOffset": 25, "strokeColor": "#666666", "fillColor": "#ffffff", "padding": 1, "rowPadding": 0}},
       "strokeDash": {"field": "s", "type": "nominal", "scale": {"domain": ["Type - 3 - E", "Type - 3 - PSSE2"], "range": [[1, 0], [9, 3, 2, 3]]},
         "legend": {"title": null, "orient": "none", "legendX": 752, "legendY": 89, "symbolType": "M-4,0H4", "symbolSize": 144, "symbolStrokeWidth": 2, "symbolOffset": 24, "labelOffset": 25, "strokeColor": "#666666", "fillColor": "#ffffff", "padding": 1, "rowPadding": 0}}
      }},
     {"data": {"values": [{}]}, "mark": {"type": "rule", "strokeOpacity": 0},
      "encoding": {"x": {"datum": 0, "type": "quantitative"}, "y": {"datum": 1.06, "type": "quantitative"}, "y2": {"datum": 1.0885}}},
     {"data": {"values": [{}]}, "mark": {"type": "text", "font": "DejaVu Serif", "fontSize": 22, "align": "right", "baseline": "alphabetic", "color": "#000"},
      "encoding": {"x": {"datum": 3.46, "type": "quantitative"}, "y": {"datum": 1.0764, "type": "quantitative"}, "text": {"value": "(e) - V"}}},
     {"data": {"values": [{}]}, "mark": {"type": "text", "font": "DejaVu Serif", "fontSize": 16, "align": "left", "baseline": "alphabetic", "dx": 2, "dy": 8, "color": "#000"},
      "encoding": {"x": {"datum": 3.46, "type": "quantitative"}, "y": {"datum": 1.0764, "type": "quantitative"}, "text": {"value": "t"}}},
     {"data": {"values": [{}]}, "mark": {"type": "text", "font": "DejaVu Serif", "fontSize": 22, "align": "left", "baseline": "alphabetic", "dx": 15, "color": "#000"},
      "encoding": {"x": {"datum": 3.46, "type": "quantitative"}, "y": {"datum": 1.0764, "type": "quantitative"}, "text": {"value": "of WPP (fault at bus 60)"}}}
    ]}
  ], "spacing": 0, "bounds": "flush", "resolve": {"scale": {"color": "independent", "strokeDash": "independent"}}}
]
}
